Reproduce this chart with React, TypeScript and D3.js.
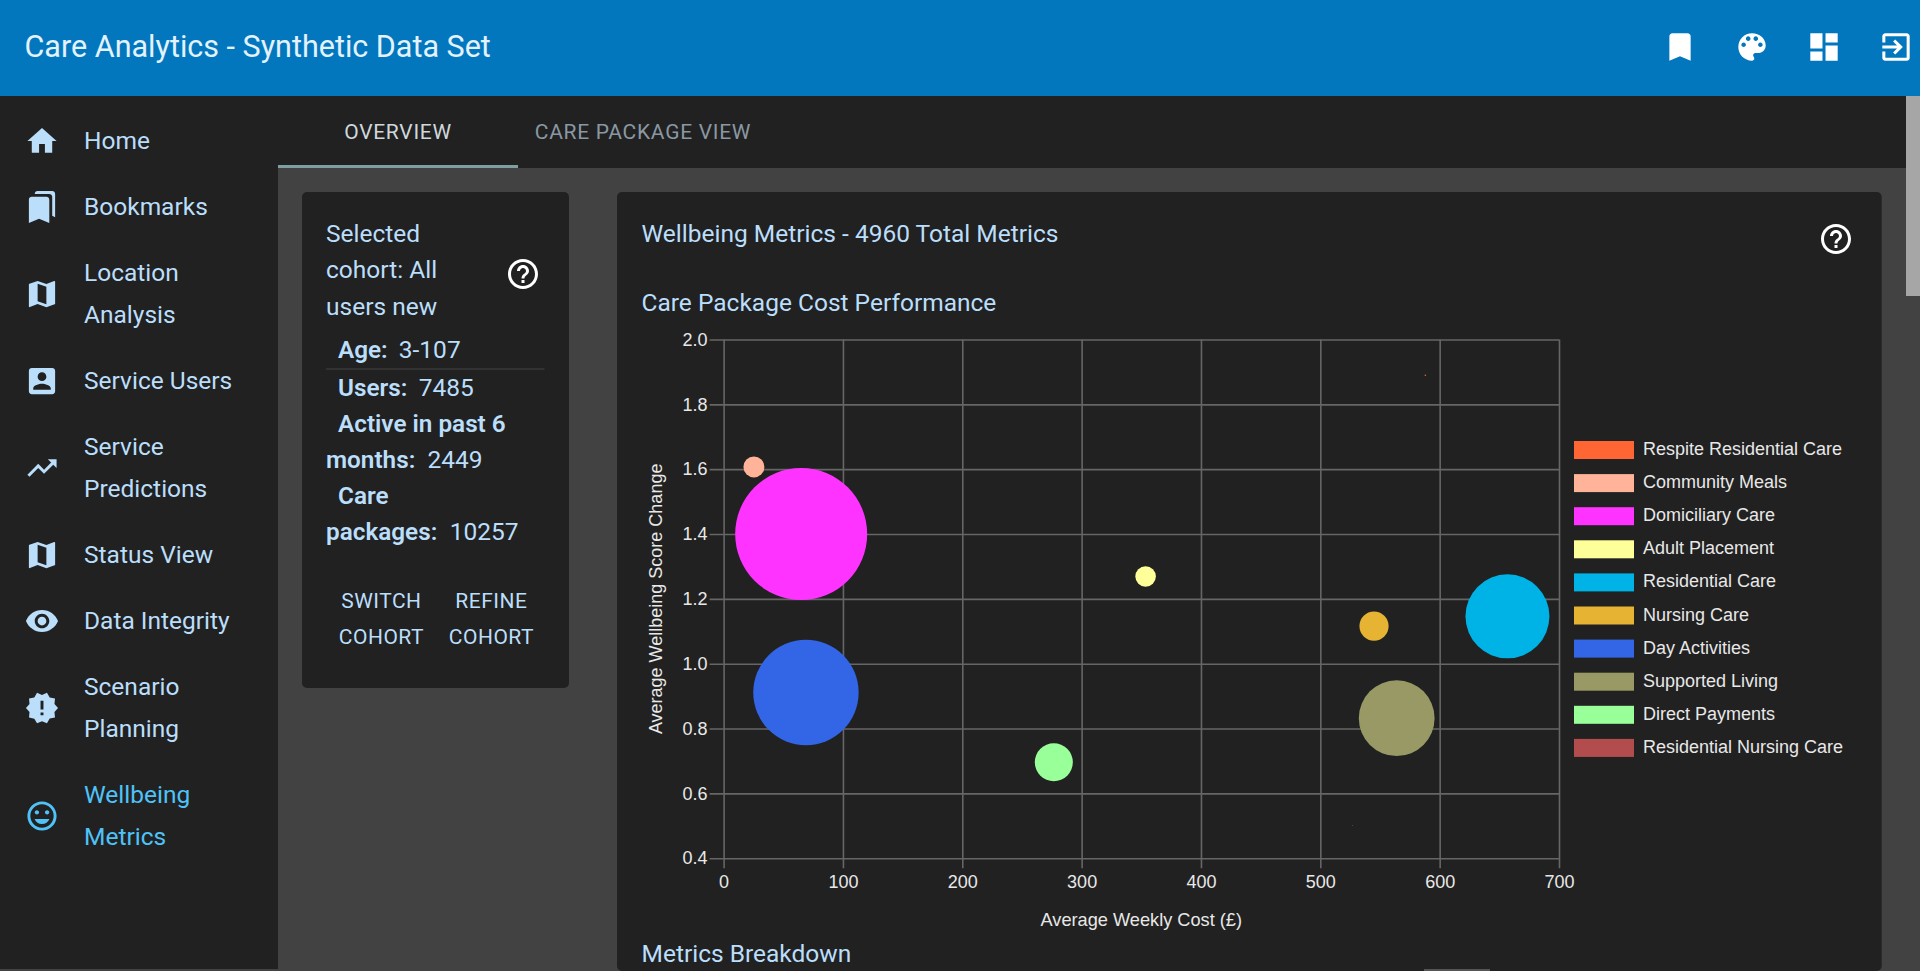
import { axisBottom, axisLeft, format, scaleLinear, scaleSqrt, select } from "d3";
import { useEffect, useRef } from "react";

const packages = [
  "Respite Residential Care",
  "Community Meals",
  "Domiciliary Care",
  "Adult Placement",
  "Residential Care",
  "Nursing Care",
  "Day Activities",
  "Supported Living",
  "Direct Payments",
  "Residential Nursing Care",
];
const weeklyCost = [588, 25.4, 65, 353.6, 656.8, 545, 69, 564, 276.7, 527];
const scoreChange = [1.89, 1.607, 1.4, 1.269, 1.146, 1.116, 0.911, 0.832, 0.696, 0.501];
const metricCounts = [0.25, 49, 1942, 47, 786, 95, 1238, 640, 161, 0.1];
const colors = ["#FF6633", "#FFB399", "#FF33FF", "#FFFF99", "#00B3E6", "#E6B333", "#3366E6", "#999966", "#99FF99", "#B34D4D"];

const xTicks = [0, 100, 200, 300, 400, 500, 600, 700];
const yTicks = [0.4, 0.6, 0.8, 1.0, 1.2, 1.4, 1.6, 1.8, 2.0];

const plot = { left: 723.6, right: 1559, top: 339.5, bottom: 858.2 };

const paths = {
  home: "M10 20v-6h4v6h5v-8h3L12 3 2 12h3v8z",
  bookmarks: "M19 18l2 1V3c0-1.1-.9-2-2-2H8.99C7.89 1 7 1.9 7 3h10c1.1 0 2 .9 2 2v13zM15 5H5c-1.1 0-2 .9-2 2v16l7-3 7 3V7c0-1.1-.9-2-2-2z",
  map: "M20.5 3l-.16.03L15 5.1 9 3 3.36 4.9c-.21.07-.36.25-.36.48V20.5c0 .28.22.5.5.5l.16-.03L9 18.9l6 2.1 5.64-1.9c.21-.07.36-.25.36-.48V3.5c0-.28-.22-.5-.5-.5zM15 19l-6-2.11V5l6 2.11V19z",
  account: "M3 5v14c0 1.1.89 2 2 2h14c1.1 0 2-.9 2-2V5c0-1.1-.9-2-2-2H5c-1.11 0-2 .9-2 2zm12 4c0 1.66-1.34 3-3 3s-3-1.34-3-3 1.34-3 3-3 3 1.34 3 3zm-9 8c0-2 4-3.1 6-3.1s6 1.1 6 3.1v1H6v-1z",
  trending: "M16 6l2.29 2.29-4.88 4.88-4-4L2 16.59 3.41 18l6-6 4 4 6.3-6.29L22 12V6z",
  eye: "M12 4.5C7 4.5 2.73 7.61 1 12c1.73 4.39 6 7.5 11 7.5s9.27-3.11 11-7.5c-1.73-4.39-6-7.5-11-7.5zM12 17c-2.76 0-5-2.24-5-5s2.24-5 5-5 5 2.24 5 5-2.24 5-5 5zm0-8c-1.66 0-3 1.34-3 3s1.34 3 3 3 3-1.34 3-3-1.34-3-3-3z",
  release: "M23 12l-2.44-2.78.34-3.68-3.61-.82-1.89-3.18L12 3 8.6 1.54 6.71 4.72l-3.61.81.34 3.68L1 12l2.44 2.78-.34 3.69 3.61.82 1.89 3.18L12 21l3.4 1.46 1.89-3.18 3.61-.82-.34-3.68L23 12zm-10 5h-2v-2h2v2zm0-4h-2V7h2v6z",
  mood: "M11.99 2C6.47 2 2 6.48 2 12s4.47 10 9.99 10C17.52 22 22 17.52 22 12S17.52 2 11.99 2zM12 20c-4.42 0-8-3.58-8-8s3.58-8 8-8 8 3.58 8 8-3.58 8-8 8zm3.5-9c.83 0 1.5-.67 1.5-1.5S16.33 8 15.5 8 14 8.67 14 9.5s.67 1.5 1.5 1.5zm-7 0c.83 0 1.5-.67 1.5-1.5S9.33 8 8.5 8 7 8.67 7 9.5 7.67 11 8.5 11zm3.5 6.5c2.33 0 4.31-1.46 5.11-3.5H6.89c.8 2.04 2.78 3.5 5.11 3.5z",
  bookmark: "M17 3H7c-1.1 0-1.99.9-1.99 2L5 21l7-3 7 3V5c0-1.1-.9-2-2-2z",
  palette: "M12 3c-4.97 0-9 4.03-9 9s4.03 9 9 9c.83 0 1.5-.67 1.5-1.5 0-.39-.15-.74-.39-1.01-.23-.26-.38-.61-.38-.99 0-.83.67-1.5 1.5-1.5H16c2.76 0 5-2.24 5-5 0-4.42-4.03-8-9-8zm-5.5 9c-.83 0-1.5-.67-1.5-1.5S5.67 9 6.5 9 8 9.67 8 10.5 7.33 12 6.5 12zm3-4C8.67 8 8 7.33 8 6.5S8.67 5 9.5 5s1.5.67 1.5 1.5S10.33 8 9.5 8zm5 0c-.83 0-1.5-.67-1.5-1.5S13.67 5 14.5 5s1.5.67 1.5 1.5S15.33 8 14.5 8zm3 4c-.83 0-1.5-.67-1.5-1.5S16.67 9 17.5 9s1.5.67 1.5 1.5-.67 1.5-1.5 1.5z",
  dashboard: "M3 13h8V3H3v10zm0 8h8v-6H3v6zm10 0h8V11h-8v10zm0-18v6h8V3h-8z",
  exit: "M10.09 15.59L11.5 17l5-5-5-5-1.41 1.41L12.67 11H3v2h9.67l-2.58 2.59zM19 3H5c-1.11 0-2 .9-2 2v4h2V5h14v14H5v-4H3v4c0 1.1.89 2 2 2h14c1.1 0 2-.9 2-2V5c0-1.1-.9-2-2-2z",
  help: "M11 18h2v-2h-2v2zm1-16C6.48 2 2 6.48 2 12s4.48 10 10 10 10-4.48 10-10S17.52 2 12 2zm0 18c-4.41 0-8-3.59-8-8s3.59-8 8-8 8 3.59 8 8-3.59 8-8 8zm0-14c-2.21 0-4 1.79-4 4h2c0-1.1.9-2 2-2s2 .9 2 2c0 2-3 1.75-3 5h2c0-2.25 3-2.5 3-5 0-2.21-1.79-4-4-4z",
};

const navItems = [
  { icon: paths.home, cy: 141, lines: [["Home", 149]] },
  { icon: paths.bookmarks, cy: 207, lines: [["Bookmarks", 215]] },
  { icon: paths.map, cy: 294, lines: [["Location", 281], ["Analysis", 323]] },
  { icon: paths.account, cy: 381, lines: [["Service Users", 389]] },
  { icon: paths.trending, cy: 468, lines: [["Service", 455], ["Predictions", 497]] },
  { icon: paths.map, cy: 555, lines: [["Status View", 563]] },
  { icon: paths.eye, cy: 621, lines: [["Data Integrity", 629]] },
  { icon: paths.release, cy: 708, lines: [["Scenario", 695], ["Planning", 737]] },
  { icon: paths.mood, cy: 816, lines: [["Wellbeing", 803], ["Metrics", 845]], active: true },
];

const topIcons = [
  [paths.bookmark, 1680],
  [paths.palette, 1752],
  [paths.dashboard, 1824],
  [paths.exit, 1896],
] as [string, number][];

const ROBOTO = "Roboto, sans-serif";
const ARIAL = "'Liberation Sans', Arial, sans-serif";
const BLUE = "#bbdefb";
const CHART_TEXT = "#e8e8e8";

function Icon({ d, cx, cy, size, fill }: { d: string; cx: number; cy: number; size: number; fill: string }) {
  const s = size / 24;
  return <path d={d} fill={fill} transform={`translate(${cx - size / 2},${cy - size / 2}) scale(${s})`} />;
}

function BubbleChart() {
  const ref = useRef<SVGGElement>(null);

  useEffect(() => {
    const g = select(ref.current);
    g.selectAll("*").remove();

    const x = scaleLinear().domain([0, 700]).range([plot.left, plot.right]);
    const y = scaleLinear().domain([0.4, 2]).range([plot.bottom, plot.top]);
    const r = scaleSqrt().domain([0, 1942]).range([0, 66]);
    const plotH = plot.bottom - plot.top;
    const plotW = plot.right - plot.left;

    // ticks run the full height of the plot so they double as the grid
    const xAxis: any = axisBottom(x).tickValues(xTicks).tickSize(plotH + 10).tickSizeOuter(0).tickPadding(7);
    const yAxis: any = axisLeft(y).tickValues(yTicks).tickFormat(format(".1f") as any).tickSize(plotW + 14).tickSizeOuter(0).tickPadding(2);

    const gx = g.append("g").attr("transform", `translate(0,${plot.top})`).call(xAxis);
    const gy = g.append("g").attr("transform", `translate(${plot.right},0)`).call(yAxis);
    [gx, gy].forEach((a: any) => {
      a.select(".domain").remove();
      a.selectAll("line").attr("stroke", "#666").attr("stroke-width", 1.6);
      a.selectAll("text").attr("fill", CHART_TEXT).attr("font-size", 18).attr("font-family", ARIAL);
    });

    g.append("g")
      .selectAll("circle")
      .data(packages)
      .join("circle")
      .attr("cx", (_, i) => x(weeklyCost[i]))
      .attr("cy", (_, i) => y(scoreChange[i]))
      .attr("r", (_, i) => r(metricCounts[i]))
      .attr("fill", (_, i) => colors[i]);

    g.append("text")
      .attr("x", (plot.left + plot.right) / 2)
      .attr("y", 926)
      .attr("text-anchor", "middle")
      .attr("fill", CHART_TEXT)
      .attr("font-size", 18.2)
      .attr("font-family", ARIAL)
      .text("Average Weekly Cost (£)");

    g.append("text")
      .attr("transform", `translate(662,${(plot.top + plot.bottom) / 2}) rotate(-90)`)
      .attr("text-anchor", "middle")
      .attr("fill", CHART_TEXT)
      .attr("font-size", 18)
      .attr("font-family", ARIAL)
      .text("Average Wellbeing Score Change");

    const legend = g
      .append("g")
      .selectAll("g")
      .data(packages)
      .join("g")
      .attr("transform", (_, i) => `translate(1574,${441 + i * 33.1})`);
    legend.append("rect").attr("width", 60).attr("height", 18).attr("fill", (_, i) => colors[i]);
    legend
      .append("text")
      .attr("x", 69)
      .attr("y", 14)
      .attr("fill", CHART_TEXT)
      .attr("font-size", 18)
      .attr("font-family", ARIAL)
      .text((d) => d);
  }, []);

  return <g ref={ref} />;
}

export default function App() {
  return (
    <svg width={1920} height={971} style={{ position: "fixed", left: 0, top: 0 }} fontFamily={ROBOTO}>
      <rect width={1920} height={971} fill="#424242" />
      <rect y={96} width={278} height={873} fill="#212121" />
      <rect x={278} y={96} width={1628} height={72} fill="#212121" />
      <rect x={1906} y={96} width={14} height={875} fill="#424242" />
      <rect x={1906} y={96} width={14} height={200} fill="#a6a6a6" />
      <rect width={1920} height={96} fill="#0277bd" />

      <text x={24.5} y={57} fontSize={30.5} fill="#e3f2fd">Care Analytics - Synthetic Data Set</text>
      {topIcons.map(([d, cx]) => <Icon key={cx} d={d} cx={cx} cy={47} size={36.5} fill="#fff" />)}

      {navItems.map((item) => {
        const c = item.active ? "#4fc3f7" : BLUE;
        return (
          <g key={item.lines[0][0] as string}>
            <Icon d={item.icon} cx={42} cy={item.cy} size={35} fill={c} />
            {item.lines.map(([t, y]) => (
              <text key={t} x={84} y={y as number} fontSize={24.5} fill={c}>{t}</text>
            ))}
          </g>
        );
      })}

      <rect x={278} y={165} width={240} height={3} fill="#7f9ea0" />
      <text x={398} y={139} textAnchor="middle" fontSize={21} fill="#cfd8dc" letterSpacing={0.7}>OVERVIEW</text>
      <text x={643} y={139} textAnchor="middle" fontSize={21} fill="#8a98a3" letterSpacing={0.7}>CARE PACKAGE VIEW</text>

      <rect x={302} y={192} width={267} height={496} rx={5} fill="#212121" />
      <text x={326} y={241.8} fontSize={24.5} fill={BLUE}>Selected</text>
      <text x={326} y={278} fontSize={24.5} fill={BLUE}>cohort: All</text>
      <text x={326} y={314.5} fontSize={24.5} fill={BLUE}>users new</text>
      <Icon d={paths.help} cx={523} cy={274} size={36} fill="#fff" />
      <text x={338} y={357.5} fontSize={24.3} fontWeight={600} fill={BLUE}>Age:</text>
      <text x={398.8} y={357.5} fontSize={24.5} fill={BLUE}>3-107</text>
      <rect x={326} y={368.5} width={218.5} height={1} fill="#454545" />
      <text x={338} y={396} fontSize={24.3} fontWeight={600} fill={BLUE}>Users:</text>
      <text x={418.7} y={396} fontSize={24.5} fill={BLUE}>7485</text>
      <text x={338} y={432} fontSize={24.3} fontWeight={600} fill={BLUE}>Active in past 6</text>
      <text x={326} y={468} fontSize={24.3} fontWeight={600} fill={BLUE}>months:</text>
      <text x={427.5} y={468} fontSize={24.5} fill={BLUE}>2449</text>
      <text x={338} y={503.5} fontSize={24.3} fontWeight={600} fill={BLUE}>Care</text>
      <text x={326} y={540} fontSize={24.3} fontWeight={600} fill={BLUE}>packages:</text>
      <text x={449.7} y={540} fontSize={24.5} fill={BLUE}>10257</text>
      <text x={381.4} y={608} textAnchor="middle" fontSize={21} fill={BLUE} letterSpacing={0.5}>SWITCH</text>
      <text x={381.4} y={644} textAnchor="middle" fontSize={21} fill={BLUE} letterSpacing={0.5}>COHORT</text>
      <text x={491.4} y={608} textAnchor="middle" fontSize={21} fill={BLUE} letterSpacing={0.5}>REFINE</text>
      <text x={491.4} y={644} textAnchor="middle" fontSize={21} fill={BLUE} letterSpacing={0.5}>COHORT</text>

      <rect x={617} y={192} width={1264.7} height={779} rx={5} fill="#212121" />
      <text x={641.5} y={241.5} fontSize={24.5} fill={BLUE}>Wellbeing Metrics - 4960 Total Metrics</text>
      <text x={641.5} y={310.5} fontSize={24.5} fill={BLUE}>Care Package Cost Performance</text>
      <Icon d={paths.help} cx={1836} cy={239} size={36} fill="#fff" />
      <BubbleChart />
      <text x={641.5} y={962.3} fontSize={24.5} fill={BLUE}>Metrics Breakdown</text>
      <rect x={1424} y={969} width={66} height={2} fill="#555" />
    </svg>
  );
}
